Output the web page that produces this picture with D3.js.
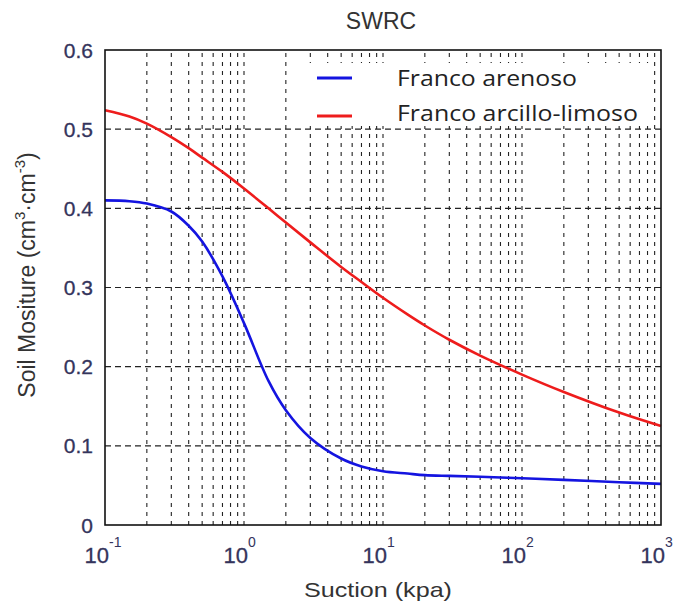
<!DOCTYPE html>
<html>
<head>
<meta charset="utf-8">
<script src="https://cdn.jsdelivr.net/npm/d3@7"></script>
<style>
  html, body { margin: 0; padding: 0; background: #fff; }
  svg { display: block; }
</style>
</head>
<body>
<svg id="chart" width="679" height="606"></svg>
<script>
// ---- data ----
const suction = [0.1, 0.15, 0.2, 0.3, 0.4, 0.5, 0.7, 1, 1.5, 2, 3, 5, 7, 10, 15, 20, 30, 50, 100, 200, 500, 1000];
const francoArenoso = [0.410, 0.409, 0.406, 0.396, 0.378, 0.358, 0.314, 0.255, 0.182, 0.145, 0.110, 0.084, 0.074, 0.068, 0.065, 0.063, 0.062, 0.061, 0.059, 0.057, 0.054, 0.052];
const francoArcilloLimoso = [0.524, 0.516, 0.507, 0.490, 0.476, 0.464, 0.446, 0.425, 0.400, 0.382, 0.357, 0.326, 0.307, 0.287, 0.266, 0.252, 0.234, 0.214, 0.190, 0.168, 0.142, 0.125];
const seriesNames = ["Franco arenoso", "Franco arcillo-limoso"];
const seriesColors = ["#1414e0", "#ee1c1c"];
const xTickValues = [0.1, 1, 10, 100, 1000];
const xTickExponents = ["-1", "0", "1", "2", "3"];
const yTickValues = [0, 0.1, 0.2, 0.3, 0.4, 0.5, 0.6];
const yTickLabels = ["0", "0.1", "0.2", "0.3", "0.4", "0.5", "0.6"];

const svg = d3.select("#chart");
const pL = 105, pR = 661, pT = 50, pB = 525;

const x = d3.scaleLog().domain([0.1, 1000]).range([pL, pR]);
const y = d3.scaleLinear().domain([0, 0.6]).range([pB, pT]);

const tickColor = "#34345c";
const labelColor = "#333";

// grid: vertical (log minor+major)
const vGrid = [];
for (let d = -1; d < 3; d++) {
  for (let k = 1; k <= 9; k++) {
    const v = k * Math.pow(10, d);
    if (v > 0.1 && v < 1000) vGrid.push(v);
  }
}
svg.append("g").selectAll("line").data(vGrid).join("line")
  .attr("x1", d => x(d)).attr("x2", d => x(d))
  .attr("y1", pB).attr("y2", pT)
  .attr("stroke", "#222").attr("stroke-width", 1.1)
  .attr("stroke-dasharray", "4,5");

svg.append("g").selectAll("line").data(yTickValues.slice(1, -1)).join("line")
  .attr("x1", pL).attr("x2", pR)
  .attr("y1", d => y(d)).attr("y2", d => y(d))
  .attr("stroke", "#222").attr("stroke-width", 1.1)
  .attr("stroke-dasharray", "6,4");

// legend background (covers grid)
svg.append("rect").attr("x", 292).attr("y", 63).attr("width", 358).attr("height", 63).attr("fill", "#fff");

// curves
const line = d3.line()
  .x((d, i) => x(suction[i]))
  .y(d => y(d))
  .curve(d3.curveCatmullRom.alpha(0.5));

[francoArenoso, francoArcilloLimoso].forEach((s, i) => {
  svg.append("path").datum(s)
    .attr("d", line)
    .attr("fill", "none")
    .attr("stroke", seriesColors[i])
    .attr("stroke-width", 2.6)
    .attr("stroke-linejoin", "round");
});

// frame
svg.append("rect").attr("x", pL).attr("y", pT).attr("width", pR - pL).attr("height", pB - pT)
  .attr("fill", "none").attr("stroke", "#111").attr("stroke-width", 1.6);

// y tick labels
svg.append("g").selectAll("text").data(yTickValues).join("text")
  .attr("x", 93).attr("y", d => y(d) + 7.5)
  .attr("text-anchor", "end")
  .attr("font-family", "Liberation Sans, Arial, sans-serif")
  .attr("font-size", 21)
  .attr("fill", tickColor)
  .attr("stroke", tickColor).attr("stroke-width", 0.3)
  .text((d, i) => yTickLabels[i]);

// x tick labels
const xt = svg.append("g").selectAll("g").data(xTickValues).join("g");
xt.append("text")
  .attr("x", d => x(d) + 4).attr("y", 563)
  .attr("text-anchor", "end")
  .attr("font-family", "Liberation Sans, Arial, sans-serif")
  .attr("font-size", 22)
  .attr("fill", tickColor)
  .attr("stroke", tickColor).attr("stroke-width", 0.3)
  .text("10");
xt.append("text")
  .attr("x", d => x(d) + 4).attr("y", 547)
  .attr("text-anchor", "start")
  .attr("font-family", "Liberation Sans, Arial, sans-serif")
  .attr("font-size", 14)
  .attr("fill", tickColor)
  .text((d, i) => xTickExponents[i]);

// title
svg.append("text")
  .attr("x", 381).attr("y", 29)
  .attr("text-anchor", "middle")
  .attr("font-family", "Liberation Sans, Arial, sans-serif")
  .attr("font-size", 23)
  .attr("fill", labelColor)
  .text("SWRC");

// x axis label
svg.append("text")
  .attr("x", 378).attr("y", 597)
  .attr("text-anchor", "middle")
  .attr("font-family", "Liberation Sans, Arial, sans-serif")
  .attr("font-size", 21)
  .attr("fill", labelColor)
  .attr("textLength", 148).attr("lengthAdjust", "spacingAndGlyphs")
  .text("Suction (kpa)");

// y axis label
const yl = svg.append("text")
  .attr("transform", "translate(35,275) rotate(-90)")
  .attr("text-anchor", "middle")
  .attr("font-family", "Liberation Sans, Arial, sans-serif")
  .attr("font-size", 23)
  .attr("fill", labelColor);
yl.append("tspan").text("Soil Mositure (cm");
yl.append("tspan").attr("dy", -10).attr("font-size", 15).text("3");
yl.append("tspan").attr("dy", 10).text("·cm");
yl.append("tspan").attr("dy", -10).attr("font-size", 15).text("-3");
yl.append("tspan").attr("dy", 10).text(")");

// legend
const legY = [78, 116];
const legTextY = [86, 121];
const legLen = [180, 241];
seriesNames.forEach((name, i) => {
  svg.append("line")
    .attr("x1", 317).attr("x2", 352)
    .attr("y1", legY[i]).attr("y2", legY[i])
    .attr("stroke", seriesColors[i]).attr("stroke-width", 3);
  svg.append("text")
    .attr("x", 397).attr("y", legTextY[i])
    .attr("font-family", "Open Sans, sans-serif")
    .attr("font-size", 21)
    .attr("fill", "#222")
    .attr("textLength", legLen[i]).attr("lengthAdjust", "spacingAndGlyphs")
    .text(name);
});
</script>
</body>
</html>
